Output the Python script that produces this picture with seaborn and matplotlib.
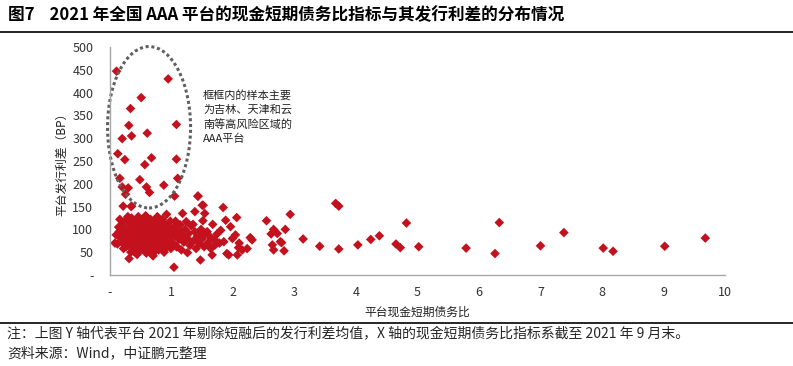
import matplotlib
matplotlib.use("Agg")
import matplotlib.pyplot as plt
import seaborn as sns
import pandas as pd
from matplotlib.patches import Ellipse
from matplotlib.ticker import FuncFormatter

# 平台现金短期债务比 (x) 与 发行利差 BP (y)
ratio = [
    # 框内高利差样本
    0.106, 0.946, 0.507, 0.333, 0.306, 1.08, 0.35, 0.605, 0.198, 0.127,
    0.241, 0.675, 0.566, 1.08, 0.16, 0.485, 1.10, 0.198, 0.296, 0.252,
    0.593, 0.642, 0.875, 1.05, 0.214, 0.35, 1.43, 1.515,
    # 主体密集区
    0.12, 0.15, 0.18, 0.20, 0.22, 0.24, 0.25, 0.27, 0.28, 0.30,
    0.30, 0.32, 0.33, 0.34, 0.35, 0.36, 0.37, 0.38, 0.40, 0.40,
    0.41, 0.42, 0.43, 0.44, 0.45, 0.46, 0.47, 0.48, 0.49, 0.50,
    0.50, 0.52, 0.53, 0.54, 0.55, 0.56, 0.57, 0.58, 0.59, 0.60,
    0.60, 0.62, 0.63, 0.64, 0.65, 0.66, 0.67, 0.68, 0.70, 0.70,
    0.72, 0.73, 0.74, 0.75, 0.76, 0.78, 0.79, 0.80, 0.81, 0.82,
    0.84, 0.85, 0.86, 0.87, 0.88, 0.90, 0.90, 0.92, 0.93, 0.95,
    0.96, 0.98, 0.99, 1.00, 0.16, 0.20, 0.26, 0.29, 0.39, 0.45,
    0.52, 0.58, 0.61, 0.69, 0.77, 0.83, 0.94, 0.08, 0.10, 0.14,
    0.23, 0.31, 0.37, 0.44, 0.51, 0.57, 0.66, 0.71, 0.79, 0.88,
    # 1-2.2 区间
    1.02, 1.04, 1.06, 1.065, 1.08, 1.10, 1.12, 1.14, 1.15, 1.16,
    1.18, 1.20, 1.22, 1.24, 1.26, 1.28, 1.30, 1.32, 1.35, 1.36,
    1.38, 1.40, 1.42, 1.44, 1.45, 1.48, 1.50, 1.51, 1.53, 1.55,
    1.58, 1.60, 1.62, 1.64, 1.67, 1.70, 1.71, 1.74, 1.78, 1.80,
    1.85, 1.88, 1.90, 1.93, 1.96, 1.99, 2.04, 2.07, 2.09, 2.06,
    2.10, 2.15,
    0.31, 1.04, 1.47, 1.26, 1.66, 0.69, 0.875, 1.09, 0.21,
    0.92, 1.18, 1.38, 1.54, 1.84, 0.345, 1.50, 1.43,
    # 2.2-3.2
    2.545, 2.93, 2.85, 2.66, 2.62, 2.72, 2.28, 2.31, 2.23, 2.64,
    2.66, 2.83, 2.77, 2.79, 3.14,
    # 右侧稀疏样本
    3.41, 3.67, 3.72, 3.72, 4.03, 4.24, 4.38, 4.65, 4.72, 4.82,
    5.02, 5.79, 6.26, 6.33, 7.00, 7.38, 8.02, 8.18, 9.02, 9.68,
]
spread = [
    447, 430, 389, 365, 328, 330, 305, 311, 299, 266,
    253, 257, 242, 254, 212, 209, 212, 193, 191, 177,
    193, 181, 197, 173, 151, 151, 173, 153,
    68, 95, 80, 110, 58, 72, 120, 88, 100, 65,
    115, 78, 92, 50, 125, 105, 70, 85, 60, 118,
    98, 75, 108, 45, 88, 128, 67, 112, 80, 95,
    55, 102, 72, 120, 85, 62, 110, 92, 48, 78,
    125, 100, 68, 88, 115, 58, 96, 75, 108, 42,
    85, 120, 65, 98, 80, 112, 55, 90, 70, 105,
    60, 122, 85, 95, 50, 75, 110, 88, 65, 100,
    80, 118, 58, 92, 122, 85, 62, 128, 52, 75,
    88, 130, 60, 92, 128, 78, 108, 70, 88, 105,
    100, 82, 115, 95, 68, 58, 122, 50, 102, 70,
    70, 105, 85, 118, 62, 95, 78, 110, 95, 55,
    88, 72, 100, 117, 80, 91, 65, 108, 111, 75,
    95, 58, 85, 88, 70, 100, 80, 119, 62, 92,
    95, 72, 85, 58, 111, 78, 66, 90, 70, 98,
    73, 120, 47, 44, 106, 80, 88, 44, 60, 126,
    70, 55,
    36, 17, 33, 49, 44, 44, 55, 62, 69,
    133, 135, 139, 135, 148, 150, 153, 173,
    119, 133, 100, 100, 90, 91, 82, 77, 58, 66,
    55, 53, 73, 71, 79,
    63, 157, 151, 57, 66, 78, 86, 68, 60, 114,
    62, 59, 47, 115, 64, 93, 59, 52, 63, 81,
]

x_ticks = list(range(0, 11))
y_ticks = list(range(0, 501, 50))

note_text = "注：上图 Y 轴代表平台 2021 年剔除短融后的发行利差均值，X 轴的现金短期债务比指标系截至 2021 年 9 月末。"
source_text = "资料来源：Wind，中证鹏元整理"
title_text = "图7    2021 年全国 AAA 平台的现金短期债务比指标与其发行利差的分布情况"
box_text = "框框内的样本主要\n为吉林、天津和云\n南等高风险区域的\nAAA平台"

df = pd.DataFrame({"ratio": ratio, "spread": spread})

sns.set_style("white")
plt.rcParams["font.family"] = ["Noto Sans CJK SC", "DejaVu Sans"]

fig = plt.figure(figsize=(7.93, 3.66), dpi=100)
ax = fig.add_axes([110 / 793, 1 - 275 / 366, 615 / 793, 228 / 366])

sns.scatterplot(data=df, x="ratio", y="spread", marker="D", s=24,
                color="#C3111E", edgecolor="none", linewidth=0, ax=ax)

ax.set_xlim(0, 10)
ax.set_ylim(0, 500)
ax.set_xticks(x_ticks)
ax.set_yticks(y_ticks)
zero_dash = FuncFormatter(lambda v, p: "-" if v == 0 else f"{v:g}")
ax.xaxis.set_major_formatter(zero_dash)
ax.yaxis.set_major_formatter(zero_dash)
ax.tick_params(axis="both", direction="in", length=4, color="#A6A6A6",
               labelsize=9, labelcolor="#333333")
ax.tick_params(axis="x", pad=8)
ax.tick_params(axis="y", pad=12)
for side in ["top", "right"]:
    ax.spines[side].set_visible(False)
for side in ["left", "bottom"]:
    ax.spines[side].set_color("#A6A6A6")
    ax.spines[side].set_linewidth(1)

ax.set_xlabel("平台现金短期债务比", fontsize=8.5, color="#222222", labelpad=5)
ax.set_ylabel("平台发行利差（BP）", fontsize=8.5, color="#222222", labelpad=3)

ell = Ellipse((0.635, 324), 1.35, 354, fill=False, edgecolor="#606060",
              linewidth=2.2, linestyle=(0, (1, 0.9)), clip_on=False)
ax.add_patch(ell)

fig.text(203 / 793, 1 - 90 / 366, box_text, fontsize=8, color="#222222",
         va="top", ha="left", linespacing=1.45)

fig.text(8 / 793, 1 - 15 / 366, title_text, fontsize=12, fontweight="bold",
         va="center", ha="left", color="black")
fig.add_artist(plt.Line2D([0, 1], [1 - 31.5 / 366, 1 - 31.5 / 366],
                          color="black", linewidth=1.2, transform=fig.transFigure))
fig.add_artist(plt.Line2D([0, 1], [1 - 323 / 366, 1 - 323 / 366],
                          color="black", linewidth=1.2, transform=fig.transFigure))
fig.text(7 / 793, 1 - 334 / 366, note_text, fontsize=10, va="center", ha="left")
fig.text(7 / 793, 1 - 353 / 366, source_text, fontsize=10, va="center", ha="left")

fig.savefig("out.png", dpi=100)
